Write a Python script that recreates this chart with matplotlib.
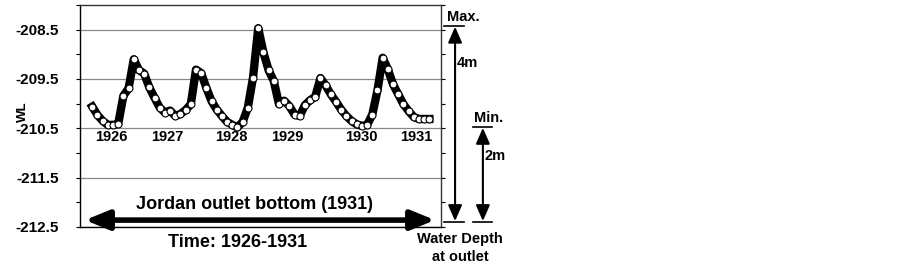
import matplotlib
matplotlib.use("Agg")
import matplotlib.pyplot as plt
from matplotlib.ticker import FixedLocator

# Monthly water levels (index 0..65)
wl = [-210.06, -210.23, -210.35, -210.43, -210.43, -210.41, -209.84, -209.69,
      -209.10, -209.32, -209.39, -209.67, -209.88, -210.08, -210.18, -210.14,
      -210.25, -210.21, -210.13, -210.01, -209.31, -209.38, -209.68, -209.95,
      -210.12, -210.25, -210.37, -210.43, -210.48, -210.37, -210.08, -209.47,
      -208.47, -208.96, -209.32, -209.54, -210.01, -209.94, -210.05, -210.22,
      -210.25, -210.03, -209.93, -209.86, -209.48, -209.63, -209.81, -209.96,
      -210.12, -210.25, -210.35, -210.42, -210.45, -210.43, -210.22, -209.73,
      -209.07, -209.30, -209.61, -209.81, -210.01, -210.15, -210.27, -210.31,
      -210.31, -210.31]
months = list(range(len(wl)))

year_labels = ["1926", "1927", "1928", "1929", "1930", "1931"]
year_pos = [3.7, 14.5, 26.9, 37.6, 51.9, 62.4]

ytick_major = [-212.5, -211.5, -210.5, -209.5, -208.5]
ytick_minor = [-212.0, -211.0, -210.0, -209.0, -208.0]

plt.rcParams['font.family'] = ['Liberation Sans', 'DejaVu Sans']
plt.rcParams['font.weight'] = 'bold'

fig = plt.figure(figsize=(9.03, 2.69), dpi=100)
ax = fig.add_axes([80/903, 42/269, 361/903, 222/269])

ax.set_xlim(-2.37, 67.25)
ax.set_ylim(-212.5, -208.0)

ax.yaxis.set_major_locator(FixedLocator(ytick_major))
ax.yaxis.set_minor_locator(FixedLocator(ytick_minor))
ax.set_yticklabels(["%.1f" % v for v in ytick_major], fontsize=11, fontweight='bold')
ax.set_xticks([])
ax.tick_params(axis='y', which='both', direction='out', length=3, width=0.8,
               left=True, right=True, pad=12)
ax.grid(axis='y', which='major', color='#888888', lw=0.9)
ax.set_axisbelow(True)
for s in ['left', 'bottom']:
    ax.spines[s].set_color('black')
    ax.spines[s].set_linewidth(1.0)
for s in ['top', 'right']:
    ax.spines[s].set_color('#333333')
    ax.spines[s].set_linewidth(1.0)

ax.plot(months, wl, color='black', lw=6, solid_joinstyle='round', zorder=3)
ax.plot(months, wl, ls='none', marker='o', markersize=5, markerfacecolor='white',
        markeredgecolor='black', markeredgewidth=0.8, zorder=4)

for lab, p in zip(year_labels, year_pos):
    ax.text(p, -210.68, lab, ha='center', va='center', fontsize=10.5, fontweight='bold')

ax.set_ylabel("WL", fontsize=9.5, fontweight='bold')
ax.yaxis.set_label_coords(-0.142, 0.52)

# bottom double arrow
ax.annotate('', xy=(-1.41, -212.36), xytext=(66.1, -212.36),
            arrowprops=dict(arrowstyle='<|-|>,head_length=1.1,head_width=0.45',
                            lw=4, color='black', mutation_scale=13, shrinkA=0, shrinkB=0),
            annotation_clip=False)
ax.text(31.2, -212.05, "Jordan outlet bottom (1931)", ha='center', va='center',
        fontsize=13, fontweight='bold')
ax.text(0.437, -0.072, "Time: 1926-1931", transform=ax.transAxes, ha='center', va='center',
        fontsize=13, fontweight='bold')

# right side annotations
tr = ax.get_yaxis_transform()
ax.plot([1.008, 1.064], [-208.42, -208.42], transform=tr, color='black', lw=1.2, clip_on=False)
ax.plot([1.008, 1.064], [-212.4, -212.4], transform=tr, color='black', lw=1.2, clip_on=False)
ax.plot([1.089, 1.141], [-210.47, -210.47], transform=tr, color='black', lw=1.2, clip_on=False)
ax.plot([1.089, 1.141], [-212.4, -212.4], transform=tr, color='black', lw=1.2, clip_on=False)
ax.annotate('', xy=(1.039, -208.44), xytext=(1.039, -212.38), xycoords=tr, textcoords=tr,
            arrowprops=dict(arrowstyle='<|-|>,head_length=0.8,head_width=0.35',
                            lw=1.5, color='black', mutation_scale=12, shrinkA=0, shrinkB=0),
            annotation_clip=False)
ax.annotate('', xy=(1.116, -210.49), xytext=(1.116, -212.38), xycoords=tr, textcoords=tr,
            arrowprops=dict(arrowstyle='<|-|>,head_length=0.8,head_width=0.35',
                            lw=1.5, color='black', mutation_scale=12, shrinkA=0, shrinkB=0),
            annotation_clip=False)
ax.text(1.062, -208.25, "Max.", transform=tr, ha='center', va='center', fontsize=10.5, fontweight='bold')
ax.text(1.133, -210.29, "Min.", transform=tr, ha='center', va='center', fontsize=10.5, fontweight='bold')
ax.text(1.043, -209.18, "4m", transform=tr, ha='left', va='center', fontsize=10.5, fontweight='bold')
ax.text(1.12, -211.06, "2m", transform=tr, ha='left', va='center', fontsize=10.5, fontweight='bold')
ax.text(1.053, -0.054, "Water Depth", transform=ax.transAxes, ha='center', va='center',
        fontsize=10.5, fontweight='bold')
ax.text(1.053, -0.135, "at outlet", transform=ax.transAxes, ha='center', va='center',
        fontsize=10.5, fontweight='bold')

fig.savefig("out.png", dpi=100)
